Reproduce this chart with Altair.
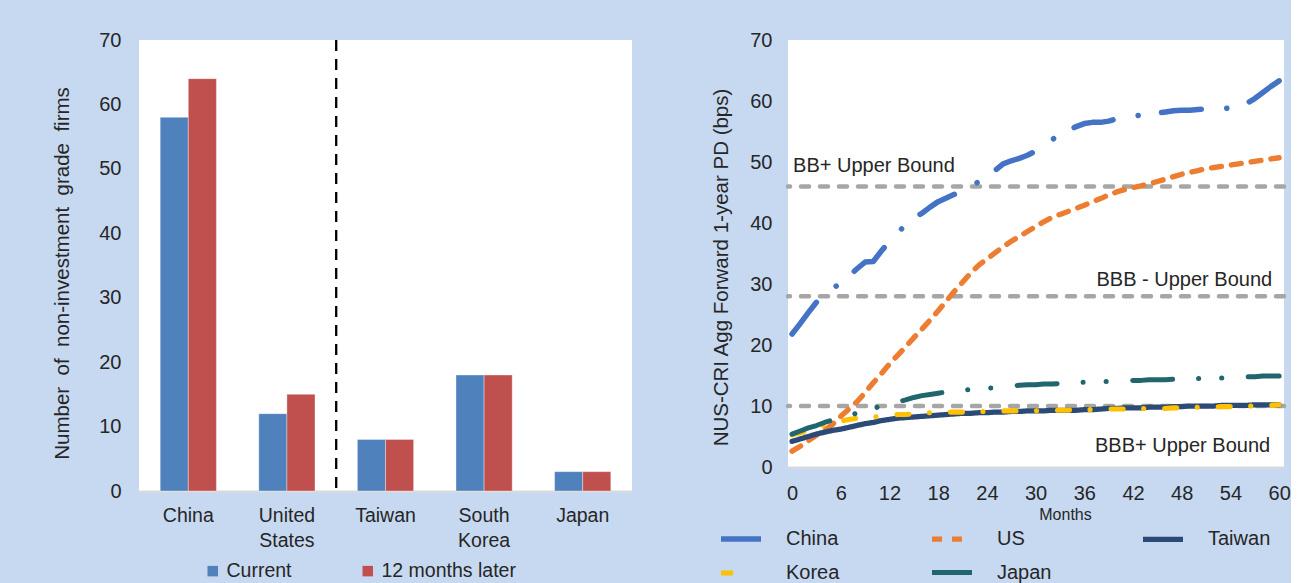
import altair as alt
import pandas as pd

# ---------------- Left panel data ----------------
countries = ["China", "United States", "Taiwan", "South Korea", "Japan"]
bar_series = ["Current", "12 months later"]
current_counts = [58, 12, 8, 18, 3]
later_counts = [64, 15, 8, 18, 3]
divider_position = [2]  # boundary after the 2nd country (in category units)

# ---------------- Right panel data ----------------
months = list(range(0, 61))
china = [21.8, 23.5, 25.3, 27.0, 28.2, 29.3, 30.1, 31.3, 32.5, 33.6,
         33.7, 35.4, 37.0, 38.4, 39.7, 40.8, 41.6, 42.6, 43.5, 44.1,
         44.7, 45.3, 45.9, 46.8, 47.5, 48.6, 49.7, 50.2, 50.6, 51.1,
         51.8, 52.6, 53.6, 54.6, 55.2, 55.8, 56.3, 56.5, 56.5, 56.7,
         57.1, 57.3, 57.5, 57.7, 57.9, 58.0, 58.2, 58.4, 58.5, 58.5,
         58.6, 58.7, 58.7, 58.7, 58.9, 59.3, 59.6, 60.4, 61.4, 62.4, 63.3]
us = [2.6, 3.4, 4.3, 5.2, 6.0, 7.0, 8.3, 9.5, 10.7, 12.2,
      13.8, 15.3, 16.9, 18.3, 19.7, 21.2, 22.6, 24.1, 25.6, 27.2,
      28.8, 30.3, 31.8, 33.1, 34.1, 35.1, 36.1, 37.0, 37.8, 38.6,
      39.4, 40.2, 40.9, 41.4, 41.9, 42.4, 42.9, 43.5, 44.0, 44.6,
      45.1, 45.5, 45.8, 46.1, 46.4, 46.8, 47.2, 47.6, 48.0, 48.3,
      48.6, 48.9, 49.1, 49.3, 49.5, 49.7, 49.9, 50.1, 50.3, 50.5, 50.7]
taiwan = [4.2, 4.6, 5.0, 5.4, 5.7, 6.0, 6.2, 6.5, 6.8, 7.1,
          7.3, 7.6, 7.8, 8.0, 8.1, 8.2, 8.3, 8.4, 8.5, 8.6,
          8.7, 8.8, 8.8, 8.9, 8.9, 9.0, 9.0, 9.1, 9.1, 9.2,
          9.2, 9.2, 9.3, 9.3, 9.3, 9.3, 9.4, 9.4, 9.5, 9.6,
          9.6, 9.7, 9.7, 9.7, 9.8, 9.8, 9.8, 9.9, 9.9, 10.0,
          10.0, 10.0, 10.0, 10.1, 10.1, 10.1, 10.1, 10.2, 10.2, 10.2, 10.2]
korea = [5.3, 5.6, 6.0, 6.5, 6.9, 7.2, 7.5, 7.8, 8.0, 8.1,
         8.2, 8.3, 8.5, 8.6, 8.6, 8.7, 8.8, 8.9, 8.9, 9.0,
         9.0, 9.0, 9.1, 9.1, 9.1, 9.2, 9.2, 9.2, 9.2, 9.2,
         9.2, 9.3, 9.3, 9.3, 9.3, 9.4, 9.4, 9.4, 9.4, 9.5,
         9.5, 9.5, 9.5, 9.6, 9.6, 9.6, 9.6, 9.7, 9.7, 9.7,
         9.8, 9.8, 9.8, 9.9, 9.9, 9.9, 10.0, 10.0, 10.1, 10.1, 10.2]
japan = [5.4, 5.9, 6.4, 6.8, 7.3, 7.7, 8.1, 8.5, 8.8, 9.2,
         9.6, 10.0, 10.3, 10.7, 11.0, 11.4, 11.7, 11.9, 12.1, 12.3,
         12.4, 12.6, 12.7, 12.8, 12.9, 13.0, 13.2, 13.3, 13.4, 13.5,
         13.5, 13.6, 13.6, 13.7, 13.8, 13.8, 13.9, 13.9, 14.0, 14.0,
         14.1, 14.1, 14.2, 14.2, 14.3, 14.3, 14.3, 14.4, 14.4, 14.4,
         14.5, 14.5, 14.6, 14.6, 14.7, 14.7, 14.8, 14.8, 14.9, 14.9, 14.9]
line_names = ["China", "US", "Taiwan", "Korea", "Japan"]
bounds = [46, 28, 10]
bound_labels = ["BB+ Upper Bound", "BBB - Upper Bound", "BBB+ Upper Bound"]
x_ticks = list(range(0, 61, 6))
y_ticks = list(range(0, 71, 10))

# ---------------- Styles ----------------
FONT = "Liberation Sans"
TXT = "#262626"
BG = "#C6D9F1"
NB = "\u00a0 "  # widened word gap, as in the original title
bar_colors = ["#4F81BD", "#C0504D"]
line_colors = ["#4472C4", "#ED7D31", "#2B4A76", "#FFC000", "#21666F"]
line_dashes = [[40, 25.5, 0.1, 23.5], [10, 10], [1, 0], [12, 20.5, 0.1, 21],
               [40, 26, 0.1, 23, 0.1, 26.5]]
line_widths = [5.5, 5, 6.5, 5, 5.5]

# ---------------- Left chart ----------------
bar_rows = []
for c, a, b in zip(countries, current_counts, later_counts):
    bar_rows.append({"country": c, "series": bar_series[0], "value": a})
    bar_rows.append({"country": c, "series": bar_series[1], "value": b})
bar_df = pd.DataFrame(bar_rows)

left_title = NB.join(["Number", "of", "non-investment", "grade", "firms"])

bars = alt.Chart(bar_df).mark_bar(stroke="white", strokeOpacity=0.35, strokeWidth=1).encode(
    x=alt.X("country:N", sort=countries,
            scale=alt.Scale(paddingInner=0.43, paddingOuter=0.215),
            axis=alt.Axis(title=None, labelAngle=0, ticks=False, domainColor="#D9D9D9",
                          domainWidth=2, labelExpr="split(datum.label, ' ')",
                          labelPadding=15, labelLineHeight=25, labelFontSize=19.5)),
    xOffset=alt.XOffset("series:N", sort=bar_series),
    y=alt.Y("value:Q", scale=alt.Scale(domain=[0, 70], nice=False),
            axis=alt.Axis(values=y_ticks, title=left_title,
                          grid=False, ticks=False, domain=False, labelPadding=18,
                          titlePadding=26, titleY=233, labelFontSize=20, titleFontSize=20.5)),
    color=alt.Color("series:N", sort=bar_series,
                    scale=alt.Scale(domain=bar_series, range=bar_colors),
                    legend=alt.Legend(title=None, orient="none", legendX=64, legendY=521,
                                      direction="horizontal", symbolType="square",
                                      symbolSize=110, symbolStrokeWidth=0,
                                      labelFontSize=19.5, labelOffset=4, columnPadding=66)),
)

divider = alt.Chart(pd.DataFrame({"pos": divider_position})).mark_rule(
    color="black", strokeDash=[11, 8], strokeWidth=2.3
).encode(x=alt.X("pos:Q", scale=alt.Scale(domain=[0, len(countries)], nice=False, zero=False),
                 axis=None))

left = alt.layer(bars, divider).resolve_scale(x="independent").properties(width=493, height=451)

# ---------------- Right chart ----------------
line_rows = []
for name, vals in zip(line_names, [china, us, taiwan, korea, japan]):
    for m, v in zip(months, vals):
        line_rows.append({"month": m, "value": v, "country": name})
line_df = pd.DataFrame(line_rows)

xscale = alt.Scale(domain=[-0.5, 60.6], nice=False, zero=False)
yscale = alt.Scale(domain=[0, 70], nice=False)

bound_df = pd.DataFrame({"bound": bounds, "label": bound_labels})
rules = alt.Chart(bound_df).mark_rule(color="#A6A6A6", strokeWidth=4.5, strokeDash=[8, 11],
                                     strokeCap="round").encode(
    y=alt.Y("bound:Q", scale=yscale))

legend_spec = alt.Legend(title=None, orient="none", legendX=-70, legendY=476,
                         direction="horizontal", columns=3, gridAlign="all",
                         symbolType="stroke", symbolSize=1600, symbolStrokeWidth=5,
                         labelFontSize=20, labelOffset=22, columnPadding=72, rowPadding=-14)

lines = alt.Chart(line_df).mark_line(strokeCap="round", strokeJoin="round").encode(
    x=alt.X("month:Q", scale=xscale,
            axis=alt.Axis(values=x_ticks, title="Months", grid=False, ticks=False,
                          domainColor="#D9D9D9", domainWidth=2, labelPadding=16,
                          labelFontSize=20, titleFontSize=16, titlePadding=3, titleX=277)),
    y=alt.Y("value:Q", scale=yscale,
            axis=alt.Axis(values=y_ticks, title="NUS-CRI Agg Forward 1-year PD (bps)",
                          grid=False, ticks=False, domain=False, labelPadding=16,
                          titlePadding=18, titleY=227, labelFontSize=20, titleFontSize=20.5)),
    color=alt.Color("country:N", sort=line_names,
                    scale=alt.Scale(domain=line_names, range=line_colors), legend=legend_spec),
    strokeDash=alt.StrokeDash("country:N", sort=line_names,
                              scale=alt.Scale(domain=line_names, range=line_dashes),
                              legend=legend_spec),
    strokeWidth=alt.StrokeWidth("country:N", sort=line_names,
                                scale=alt.Scale(domain=line_names, range=line_widths),
                                legend=None),
)

text_style = dict(font=FONT, fontSize=20, color=TXT)
t1 = alt.Chart(bound_df.iloc[[0]]).mark_text(align="left", baseline="middle", dx=1, dy=-20,
                                             **text_style).encode(
    x=alt.datum(0, scale=xscale), y=alt.Y("bound:Q", scale=yscale), text="label:N")
t2 = alt.Chart(bound_df.iloc[[1]]).mark_text(align="right", baseline="middle", dx=-7, dy=-16,
                                             **text_style).encode(
    x=alt.datum(60), y=alt.Y("bound:Q", scale=yscale), text="label:N")
t3 = alt.Chart(bound_df.iloc[[2]]).mark_text(align="right", baseline="middle", dx=-9, dy=40,
                                             **text_style).encode(
    x=alt.datum(60), y=alt.Y("bound:Q", scale=yscale), text="label:N")

right = alt.layer(rules, lines, t1, t2, t3).properties(width=496, height=427)

chart = alt.hconcat(left, right, spacing=79).resolve_scale(
    color="independent", strokeDash="independent", strokeWidth="independent"
).resolve_legend(
    color="independent", strokeDash="independent", strokeWidth="independent"
).properties(
    background=BG,
    padding={"left": 52, "top": 30, "right": 0, "bottom": 0},
).configure_view(fill="white", stroke=None).configure_axis(
    labelFont=FONT, titleFont=FONT, labelColor=TXT, titleColor=TXT, titleFontWeight="normal"
).configure_legend(labelFont=FONT, labelColor=TXT)

chart.save("out.html", embed_options={"renderer": "svg", "actions": False})
